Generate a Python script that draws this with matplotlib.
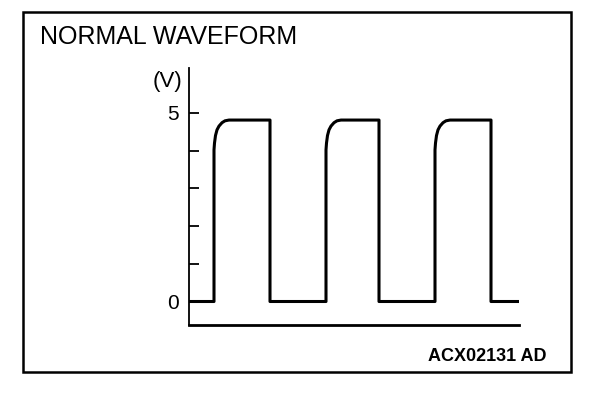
import matplotlib
matplotlib.use("Agg")
import matplotlib.pyplot as plt
from matplotlib.patches import Rectangle

# ---- data ----
rise_times = [25, 137, 246]          # time of each rising edge
fall_times = [81, 190, 302]          # time of each falling edge
end_time = 330                       # end of trace
low_level = 0.0                      # volts
knee_dt = [0, 0.5, 1.5, 3, 5, 8, 11, 15]                     # offset after rise
knee_v = [4.02, 4.2, 4.4, 4.55, 4.65, 4.74, 4.79, 4.81]     # volts on rounded knee
high_level = 4.81
ytick_vals = [0, 1, 2, 3, 4, 5]
ytick_labels = ["0", "", "", "", "", "5"]
title_text = "NORMAL WAVEFORM"
unit_text = "(V)"
code_text = "ACX02131 AD"

# build waveform vertices from the values above
t = [0]
v = [low_level]
for r, f in zip(rise_times, fall_times):
    t += [r]
    v += [low_level]
    for dt, kv in zip(knee_dt, knee_v):
        t.append(r + dt)
        v.append(kv)
    t += [f, f]
    v += [high_level, low_level]
t.append(end_time)
v.append(low_level)

plt.rcParams['font.family'] = ['Liberation Sans', 'DejaVu Sans']

W, H = 608, 400
fig = plt.figure(figsize=(W / 100, H / 100), dpi=100)

# outer frame
fig.patches.append(Rectangle((23 / W, 1 - 372 / H), (571 - 23) / W, (372 - 12) / H,
                             transform=fig.transFigure, fill=False,
                             edgecolor='black', linewidth=1.8))

# axes: x 189..519 px, y 68..325 px
ax = fig.add_axes([189 / W, 1 - 325 / H, (519 - 189) / W, (325 - 68) / H])
ax.set_xlim(0, end_time)
ax.set_ylim(-0.623, 6.19)
ax.plot(t, v, color='black', linewidth=2.2, solid_joinstyle='round',
        solid_capstyle='butt', clip_on=False)

for s in ['top', 'right']:
    ax.spines[s].set_visible(False)
ax.spines['left'].set_linewidth(1.3)
ax.spines['bottom'].set_linewidth(2.0)
ax.set_xticks([])
ax.set_yticks(ytick_vals)
ax.set_yticklabels(ytick_labels, fontsize=15)
ax.tick_params(axis='y', direction='in', length=7, width=1.3, pad=7)

fig.text(40 / W, 1 - 37 / H, title_text, fontsize=18, va='center', ha='left')
fig.text(167 / W, 1 - 81 / H, unit_text, fontsize=16, va='center', ha='center')
fig.text(547 / W, 1 - 356.5 / H, code_text, fontsize=13, fontweight='bold',
         va='center', ha='right')

fig.savefig("out.png", dpi=100)
